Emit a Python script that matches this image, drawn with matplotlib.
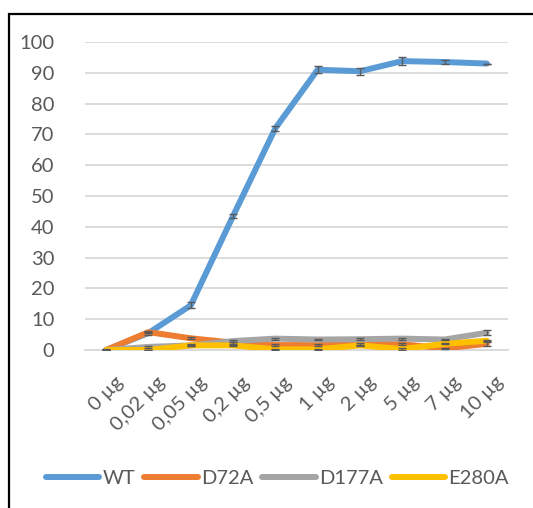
import numpy as np
import matplotlib.pyplot as plt
from matplotlib.patches import Rectangle
from matplotlib.transforms import ScaledTranslation

doses = ['0 µg', '0,02 µg', '0,05 µg', '0,2 µg', '0,5 µg', '1 µg', '2 µg', '5 µg', '7 µg', '10 µg']

wt = [0, 5.5, 14.5, 43.5, 72, 91, 90.5, 93.8, 93.5, 93]
wt_err = [0.3, 0.5, 1.0, 0.8, 0.8, 1.2, 1.2, 1.2, 0.6, 0]
d72a = [0, 5.8, 3.8, 2.4, 1.6, 1.6, 1.9, 1.9, 0.5, 2.0]
d72a_err = [0, 0.4, 0.3, 0.3, 0.3, 0.3, 0.3, 0.3, 0.3, 0.8]
d177a = [0, 1.0, 1.5, 2.9, 3.7, 3.4, 3.5, 3.7, 3.4, 5.6]
d177a_err = [0, 0.2, 0.3, 0.3, 0.3, 0.3, 0.3, 0.3, 0.3, 0.8]
e280a = [0, 0, 1.5, 1.5, 0.2, 0.2, 1.5, 0.3, 2.0, 3.0]
e280a_err = [0, 0, 0.2, 0.2, 0.2, 0.2, 0.2, 0.2, 0.2, 0.3]

series = [
    ('WT', wt, wt_err, '#5B9BD5'),
    ('D72A', d72a, d72a_err, '#ED7D31'),
    ('D177A', d177a, d177a_err, '#A5A5A5'),
    ('E280A', e280a, e280a_err, '#FFC000'),
]

plt.rcParams['font.family'] = ['Lato', 'DejaVu Sans']
text_col = '#595959'
fs = 14.5

fig = plt.figure(figsize=(5.33, 5.08), dpi=100)
ax = fig.add_axes([85 / 533, 1 - 350 / 508, 423 / 533, 308 / 508])

x = np.arange(len(doses))
for name, vals, err, col in series:
    ax.plot(x, vals, color=col, lw=4.3, solid_capstyle='round', solid_joinstyle='round',
            label=name, zorder=3)
    ax.errorbar(x, vals, yerr=err, fmt='none', ecolor='#595959', elinewidth=1,
                capsize=3, capthick=1, zorder=4)

ax.set_xlim(-0.5, len(doses) - 0.5)
ax.set_ylim(0, 100)
ax.set_yticks(range(0, 101, 10))
ax.yaxis.grid(True, color='#D9D9D9', lw=1.3)
ax.set_axisbelow(True)
for s in ['top', 'right', 'left']:
    ax.spines[s].set_visible(False)
ax.spines['bottom'].set_color('#D9D9D9')
ax.spines['bottom'].set_linewidth(1.3)
ax.tick_params(axis='both', length=0, colors=text_col, labelsize=fs)
ax.tick_params(axis='y', pad=22)
ax.set_xticks(x)
ax.set_xticklabels(doses, rotation=45, ha='right', va='top', rotation_mode='anchor')
ax.tick_params(axis='x', pad=17)
shift = ScaledTranslation(8 / 100, 0, fig.dpi_scale_trans)
for lbl in ax.get_xticklabels():
    lbl.set_transform(lbl.get_transform() + shift)

leg = fig.legend(loc='center', bbox_to_anchor=(0.5 + 11 / 533, 1 - 478 / 508), ncol=4, frameon=False,
                 fontsize=fs, handlelength=2.65, handletextpad=0.16, columnspacing=0.45)
for t in leg.get_texts():
    t.set_color(text_col)

fig.patches.append(Rectangle((8.5 / 533, -0.2), 1.2, 1.2 - 13.5 / 508, transform=fig.transFigure,
                             fill=False, edgecolor='black', lw=1.6))

fig.savefig('out.png', dpi=100)
